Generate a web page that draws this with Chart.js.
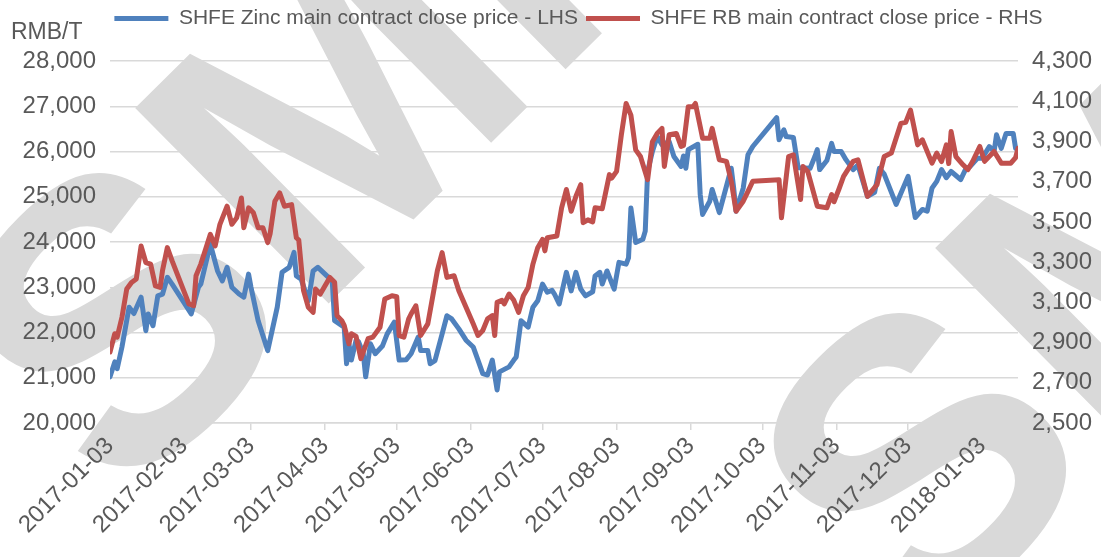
<!DOCTYPE html>
<html>
<head>
<meta charset="utf-8">
<script src="https://cdn.jsdelivr.net/npm/chart.js@4.4.0/dist/chart.umd.min.js"></script>
<style>
    html, body { margin: 0; padding: 0; background: #fff; }
    #wrap { width: 1101px; height: 557px; position: relative; }
</style>
</head>
<body>
<div id="wrap"><canvas id="priceChart"></canvas></div>
<script>
// Day offsets are counted from 2017-01-03
const startDate = Date.UTC(2017, 0, 3);
const monthTicks = [0, 31, 59, 90, 120, 151, 181, 212, 243, 273, 304, 334, 365];

// SHFE zinc main contract close (RMB/T, left axis)
const zincDays = [
    0, 2, 3, 5, 8, 10, 13, 15, 16, 18,
    20, 22, 24, 26, 34, 37, 38, 42, 45, 47,
    49, 51, 54, 56, 58, 59, 62, 66, 70, 72,
    75, 77, 78, 80, 83, 85, 87, 93, 94, 98,
    99, 100, 101, 103, 104, 106, 107, 109, 111, 114,
    116, 119, 121, 124, 126, 129, 130, 133, 134, 136,
    139, 141, 143, 146, 149, 152, 154, 156, 158, 160,
    162, 163, 167, 169, 170, 172, 175, 177, 179, 181,
    183, 185, 186, 188, 191, 193, 195, 197, 199, 202,
    203, 205, 206, 208, 211, 213, 216, 217, 218, 220,
    223, 224, 225, 227, 229, 231, 234, 236, 239, 240,
    241, 242, 246, 247, 248, 251, 252, 255, 260, 261,
    262, 265, 267, 269, 279, 280, 282, 283, 286, 288,
    293, 295, 296, 297, 300, 302, 303, 306, 308, 311,
    313, 317, 320, 322, 324, 329, 334, 337, 340, 342,
    344, 346, 348, 350, 352, 354, 356, 358, 360, 363,
    365, 368, 370, 371, 373, 375, 378, 379, 380
];
const zincPrices = [
    21020, 21350, 21200, 21680, 22560, 22420, 22780, 22040, 22410, 22150,
    22810, 22850, 23220, 23070, 22410, 23000, 23070, 23950, 23360, 23140,
    23440, 23000, 22850, 22780, 23290, 23000, 22260, 21600, 22560, 23330,
    23440, 23770, 23250, 23180, 22700, 23360, 23440, 23140, 22260, 22120,
    21310, 21750, 21390, 21830, 21800, 21530, 21020, 21750, 21530, 21700,
    21970, 22230, 21390, 21400, 21530, 21900, 21600, 21600, 21310, 21380,
    21970, 22370, 22300, 22080, 21830, 21680, 21390, 21090, 21060, 21390,
    20730, 21130, 21240, 21390, 21460, 22260, 22120, 22560, 22700, 23070,
    22890, 22930, 22850, 22630, 23330, 22920, 23330, 22960, 22810, 22900,
    23250, 23330, 23070, 23360, 22960, 23550, 23510, 23650, 24750, 23990,
    24060, 24240, 25560, 26000, 26330, 26150, 26220, 25890, 25670, 25900,
    25630, 26040, 26160, 25050, 24610, 24900, 25160, 24650, 25630, 25200,
    24680, 25190, 25930, 26110, 26750, 26260, 26480, 26330, 26310, 25640,
    25630, 25890, 26040, 25600, 25800, 26180, 26000, 26000, 25820, 25600,
    25700, 25010, 25100, 25630, 25500, 24830, 25450, 24540, 24720, 24680,
    25190, 25340, 25600, 25420, 25560, 25470, 25380, 25600, 25670, 25850,
    25850, 26110, 26000, 26370, 26070, 26400, 26400, 26070, 26050
];

// SHFE rebar main contract close (RMB/T, right axis)
const rebarDays = [
    0, 2, 3, 5, 7, 9, 11, 13, 15, 17,
    19, 21, 22, 24, 26, 33, 35, 36, 38, 40,
    42, 44, 46, 49, 51, 53, 55, 56, 58, 60,
    62, 64, 66, 67, 69, 71, 73, 76, 78, 79,
    81, 83, 85, 86, 88, 92, 94, 95, 97, 98,
    100, 101, 103, 105, 108, 110, 113, 115, 118, 120,
    121, 123, 125, 126, 128, 130, 133, 135, 137, 139,
    141, 144, 146, 149, 152, 154, 156, 158, 160, 161,
    162, 164, 165, 167, 169, 171, 173, 175, 177, 179,
    181, 182, 183, 187, 189, 191, 193, 195, 197, 198,
    200, 202, 203, 206, 209, 210, 212, 214, 216, 218,
    220, 222, 225, 227, 229, 231, 232, 234, 237, 239,
    240, 242, 244, 245, 247, 248, 251, 252, 255, 258,
    260, 262, 265, 267, 269, 280, 281, 284, 286, 289,
    290, 292, 296, 300, 302, 303, 305, 307, 311, 313,
    317, 321, 324, 327, 331, 333, 335, 338, 340, 344,
    346, 348, 350, 351, 352, 354, 357, 359, 361, 364,
    366, 370, 373, 377, 379, 380
];
const rebarPrices = [
    2853, 2944, 2927, 3026, 3166, 3199, 3216, 3380, 3298, 3290,
    3182, 3174, 3260, 3372, 3306, 3092, 3083, 3232, 3290, 3364,
    3438, 3380, 3488, 3578, 3488, 3520, 3619, 3471, 3570, 3545,
    3471, 3471, 3397, 3440, 3603, 3644, 3578, 3586, 3421, 3410,
    3158, 3075, 3050, 3166, 3141, 3224, 3200, 3034, 3009, 2985,
    2894, 2944, 2930, 2820, 2919, 2927, 2976, 3117, 3133, 3128,
    2935, 2927, 3018, 3042, 3083, 2935, 2993, 3125, 3257, 3347,
    3224, 3232, 3158, 3075, 2993, 2935, 2960, 3018, 3034, 2935,
    3100, 3110, 3092, 3141, 3110, 3050, 3133, 3174, 3290, 3372,
    3413, 3356, 3421, 3430, 3570, 3661, 3553, 3628, 3685, 3496,
    3510, 3500, 3570, 3565, 3735, 3718, 3751, 3933, 4089, 4031,
    3858, 3825, 3710, 3899, 3940, 3965, 3776, 3933, 3940, 3875,
    3880, 4073, 4073, 4089, 3974, 3916, 3916, 3965, 3809, 3801,
    3702, 3553, 3603, 3652, 3702, 3710, 3520, 3825, 3834, 3611,
    3776, 3751, 3578, 3570, 3636, 3600, 3661, 3726, 3801, 3809,
    3627, 3685, 3825, 3842, 3990, 3995, 4056, 3883, 3908, 3792,
    3842, 3800, 3883, 3790, 3949, 3825, 3784, 3760, 3800, 3875,
    3801, 3850, 3792, 3792, 3820, 3866
];

const zincLabel = "SHFE Zinc main contract close price - LHS";
const rebarLabel = "SHFE RB main contract close price - RHS";
const unitLabel = "RMB/T";

const textColor = "#595959";
const gridColor = "#d9d9d9";
const axisFont = "'Liberation Sans', Arial, sans-serif";

function toPoints(days, values) {
    return days.map((d, i) => ({ x: d, y: values[i] }));
}

function dayToDate(d) {
    return new Date(startDate + d * 86400000).toISOString().slice(0, 10);
}

// big grey "SMM" watermark behind the plot
const watermark = {
    id: "watermark",
    beforeDraw(chart) {
        const ctx = chart.ctx;
        ctx.save();
        ctx.fillStyle = "#d9d9d9";
        ctx.font = "bold 400px 'Liberation Sans', Arial, sans-serif";
        ctx.textBaseline = "alphabetic";
        [[120, 510], [920, 650]].forEach(([x, y]) => {
            ctx.save();
            ctx.translate(x, y);
            ctx.rotate(-0.78);
            ctx.fillText("SMM", 0, 0);
            ctx.restore();
        });
        ctx.restore();
    },
};

// "RMB/T" above the left axis
const unitText = {
    id: "unitText",
    afterDraw(chart) {
        const ctx = chart.ctx;
        ctx.save();
        ctx.fillStyle = textColor;
        ctx.font = "23px " + axisFont;
        ctx.textBaseline = "middle";
        ctx.textAlign = "left";
        ctx.fillText(unitLabel, 11, 33);
        ctx.restore();
    },
};

// more room under the legend, and nudge it right like the original
const legendSpace = {
    id: "legendSpace",
    beforeInit(chart) {
        const legend = chart.legend;
        if (!legend) return;
        const fit = legend.fit;
        legend.fit = function () {
            fit.call(this);
            this.height += 22;
        };
    },
    afterLayout(chart) {
        if (chart.legend) {
            chart.legend.left += 28;
            chart.legend.right += 28;
        }
    },
};

const ctx = document.getElementById("priceChart");
new Chart(ctx, {
    type: "line",
    data: {
        datasets: [
            {
                label: zincLabel,
                data: toPoints(zincDays, zincPrices),
                borderColor: "#4f81bd",
                backgroundColor: "#4f81bd",
                borderWidth: 5,
                pointRadius: 0,
                tension: 0,
                borderJoinStyle: "round",
                borderCapStyle: "round",
                yAxisID: "y",
                order: 2,
            },
            {
                label: rebarLabel,
                data: toPoints(rebarDays, rebarPrices),
                borderColor: "#c0504d",
                backgroundColor: "#c0504d",
                borderWidth: 5,
                pointRadius: 0,
                tension: 0,
                borderJoinStyle: "round",
                borderCapStyle: "round",
                yAxisID: "y2",
                order: 1,
            },
        ],
    },
    options: {
        responsive: true,
        maintainAspectRatio: false,
        animation: false,
        layout: { padding: { top: 0, right: 0, bottom: 0, left: 0 } },
        plugins: {
            legend: {
                position: "top",
                labels: {
                    usePointStyle: true,
                    pointStyle: "line",
                    pointStyleWidth: 54,
                    padding: 8,
                    color: textColor,
                    font: { family: axisFont, size: 21 },
                    sort: (a, b) => a.datasetIndex - b.datasetIndex,
                },
            },
            tooltip: { enabled: false },
        },
        scales: {
            x: {
                type: "linear",
                min: 0,
                max: 380,
                afterBuildTicks: (scale) => {
                    scale.ticks = monthTicks.map((v) => ({ value: v }));
                },
                afterFit: (scale) => {
                    scale.height = 134;
                },
                ticks: {
                    autoSkip: false,
                    maxRotation: 45,
                    minRotation: 45,
                    color: textColor,
                    font: { family: axisFont, size: 24 },
                    padding: 2,
                    callback: (v) => dayToDate(v),
                },
                grid: {
                    drawOnChartArea: false,
                    drawTicks: true,
                    tickLength: 7,
                    color: gridColor,
                    lineWidth: 1.5,
                },
                border: { color: gridColor, width: 1.5 },
            },
            y: {
                position: "left",
                min: 20000,
                max: 28000,
                afterFit: (scale) => {
                    scale.width = 110;
                },
                ticks: {
                    stepSize: 1000,
                    color: textColor,
                    font: { family: axisFont, size: 24 },
                    padding: 14,
                    callback: (v) => v.toLocaleString("en-US"),
                },
                grid: { color: gridColor, lineWidth: 1.5, drawTicks: false },
                border: { display: false },
            },
            y2: {
                position: "right",
                min: 2500,
                max: 4300,
                afterFit: (scale) => {
                    scale.width = 83;
                },
                ticks: {
                    stepSize: 200,
                    color: textColor,
                    font: { family: axisFont, size: 24 },
                    padding: 14,
                    callback: (v) => v.toLocaleString("en-US"),
                },
                grid: { display: false, drawTicks: false },
                border: { display: false },
            },
        },
    },
    plugins: [watermark, unitText, legendSpace],
});
</script>
</body>
</html>
